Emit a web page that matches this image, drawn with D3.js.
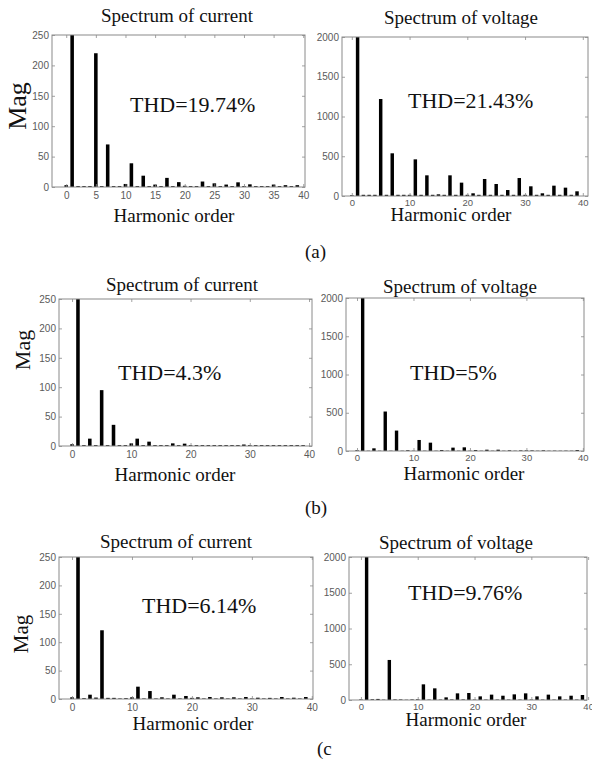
<!DOCTYPE html>
<html>
<head>
<meta charset="utf-8">
<script src="https://cdn.jsdelivr.net/npm/d3@7"></script>
<style>
  html, body { margin: 0; padding: 0; background: #fff; }
  svg { display: block; }
</style>
</head>
<body>
<svg id="chart" width="592" height="767"></svg>
<script>
// ---------------- DATA ----------------
const harmonicOrders = [0,1,2,3,4,5,6,7,8,9,10,11,12,13,14,15,16,17,18,19,
                        20,21,22,23,24,25,26,27,28,29,30,31,32,33,34,35,36,37,38,39];

const currentA = [3,250,1.5,1.5,1.5,220,1.5,70,1.5,1.5,5,39,1.5,18.6,1.5,4,1.5,15,1.5,8,
                  2,1.5,1.5,9,1.5,6,1.5,4,1.5,7.7,1.5,4.4,1.5,1.5,1.5,4,1.5,3,1.5,3];
const voltageA = [10,2000,15,15,15,1220,15,537,15,15,15,461,15,260,15,21,15,260,15,168,
                  15,34,15,214,15,151,15,75,15,226,15,122,15,34,15,130,15,105,15,59];

const currentB = [3,250,1.5,12.5,1.5,95,1.5,36,1.5,1.5,4.5,12.5,1.5,7.4,1.5,1.5,1.5,4.5,1.5,4,
                  1.5,1.5,1.5,1.5,1.5,1.5,1.5,1.5,1.5,2.5,1.5,1.5,1.5,1.5,1.5,1.5,1.5,1.5,1.5,1.5];
const voltageB = [10,2000,4,35,4,516,4,267,4,10,4,144,4,109,4,13,4,44,4,48,
                  4,13,4,17,4,17,4,9,4,8,8,8,4,9,4,5,4,5,4,13];

const currentC = [3,250,1.5,7.6,2.5,121,2,2,1,1.5,3,21.7,1,14,1,3,1,7.6,1,5.3,
                  2,3,1,3.5,1,3,1,3,1,3.5,1,2.3,1,2,1,3.5,1,2.3,1,3.5];
const voltageC = [8,2000,10,15,5,560,8,8,4,8,10,219,6,163,6,37,8,93,8,98,
                  6,51,6,75,6,60,6,79,6,93,6,51,6,75,6,51,6,60,6,70];

const thdLabels = ["THD=19.74%","THD=21.43%","THD=4.3%","THD=5%","THD=6.14%","THD=9.76%"];
const panelTitles = ["Spectrum of current","Spectrum of voltage"];
const xAxisTitle = "Harmonic order";
const yAxisTitle = "Mag";
const groupLabels = ["(a)","(b)","(c"];

const xTicksFive = [0,5,10,15,20,25,30,35,40];
const xTicksTen = [0,10,20,30,40];
const currentYTicks = [0,50,100,150,200,250];
const voltageYTicks = [0,500,1000,1500,2000];
const currentYMax = 250;
const voltageYMax = 2000;

// ---------------- LAYOUT ----------------
const panels = [
  {vals: currentA, ymax: currentYMax, yt: currentYTicks, xt: xTicksFive, thd: 0, title: 0,
   L:52, T:35, R:305, B:187, xd:[-2.4,40.3], pad:5,
   tx:177, ty:22, hx:174, hy:222, thx:130, thy:112, thFs:22},
  {vals: voltageA, ymax: voltageYMax, yt: voltageYTicks, xt: xTicksTen, thd: 1, title: 1,
   L:342, T:37, R:588, B:196, xd:[-1.7,40.9], pad:3,
   tx:461, ty:24, hx:451, hy:221, thx:408, thy:108, thFs:22},
  {vals: currentB, ymax: currentYMax, yt: currentYTicks, xt: xTicksTen, thd: 2, title: 0,
   L:59, T:299, R:312, B:446, xd:[-2.2,40.5], pad:5,
   tx:182, ty:291, hx:175, hy:481, thx:118, thy:380, thFs:22},
  {vals: voltageB, ymax: voltageYMax, yt: voltageYTicks, xt: xTicksTen, thd: 3, title: 1,
   L:346, T:298, R:584, B:451, xd:[-1.95,40.2], pad:3,
   tx:460, ty:293, hx:464, hy:480, thx:410, thy:380, thFs:22},
  {vals: currentC, ymax: currentYMax, yt: currentYTicks, xt: xTicksTen, thd: 4, title: 0,
   L:59, T:557, R:313, B:699, xd:[-2.17,40.2], pad:5,
   tx:176, ty:548, hx:193, hy:730, thx:142, thy:613, thFs:22},
  {vals: voltageC, ymax: voltageYMax, yt: voltageYTicks, xt: xTicksTen, thd: 5, title: 1,
   L:349, T:557, R:587, B:700, xd:[-2.1,39.8], pad:3,
   tx:456, ty:549, hx:466, hy:726, thx:408, thy:600, thFs:22}
];

const magPos = [{x:17, y:106, fs:26}, {x:22, y:350, fs:22}, {x:21, y:634, fs:21}];
const groupPos = [{x:305, y:258}, {x:305, y:514}, {x:317, y:755}];

const serif = "'Liberation Serif','Times New Roman',Times,serif";
const sans = "'Liberation Sans',Arial,Helvetica,sans-serif";
const axisGray = "#8a8a8a";
const labelGray = "#5a5a5a";
const barWidthUnits = 0.6;

const svg = d3.select("#chart");

panels.forEach((p, i) => {
  const x = d3.scaleLinear().domain(p.xd).range([p.L, p.R]);
  const y = d3.scaleLinear().domain([0, p.ymax]).range([p.B, p.T]);
  const g = svg.append("g");

  // bars
  const data = harmonicOrders.map((h, k) => ({h, v: p.vals[k]}));
  g.append("g").selectAll("rect").data(data).join("rect")
    .attr("x", d => x(d.h - barWidthUnits / 2))
    .attr("width", d => x(d.h + barWidthUnits / 2) - x(d.h - barWidthUnits / 2))
    .attr("y", d => y(Math.min(d.v, p.ymax)))
    .attr("height", d => y(0) - y(Math.min(d.v, p.ymax)))
    .attr("fill", "#000");

  // axes (inward ticks, MATLAB style)
  const styleAxis = (sel, fs) => {
    sel.select(".domain").remove();
    sel.selectAll(".tick line").attr("stroke", axisGray).attr("stroke-width", 0.8);
    sel.selectAll(".tick text").attr("fill", labelGray)
      .style("font-family", sans).style("font-size", (fs || 10) + "px");
  };
  const fmt = d3.format("d");
  g.append("g").attr("transform", `translate(${p.L},0)`)
    .call(d3.axisLeft(y).tickValues(p.yt).tickSize(-3).tickPadding(3).tickFormat(fmt))
    .call(styleAxis);
  g.append("g").attr("transform", `translate(${p.R},0)`)
    .call(d3.axisRight(y).tickValues(p.yt).tickSize(-3).tickFormat(""))
    .call(styleAxis);
  g.append("g").attr("transform", `translate(0,${p.B})`)
    .call(d3.axisBottom(x).tickValues(p.xt).tickSize(-3).tickPadding(p.pad).tickFormat(fmt))
    .call(styleAxis, p.pad === 3 ? 9.5 : 10);
  g.append("g").attr("transform", `translate(0,${p.T})`)
    .call(d3.axisTop(x).tickValues(p.xt).tickSize(-3).tickFormat(""))
    .call(styleAxis);

  // box
  g.append("rect")
    .attr("x", p.L).attr("y", p.T)
    .attr("width", p.R - p.L).attr("height", p.B - p.T)
    .attr("fill", "none").attr("stroke", axisGray).attr("stroke-width", 1);

  // titles
  g.append("text").attr("x", p.tx).attr("y", p.ty)
    .attr("text-anchor", "middle")
    .style("font-family", serif).style("font-size", "19px").attr("fill", "#111")
    .text(panelTitles[p.title]);
  g.append("text").attr("x", p.hx).attr("y", p.hy)
    .attr("text-anchor", "middle")
    .style("font-family", serif).style("font-size", "19px").attr("fill", "#111")
    .text(xAxisTitle);
  g.append("text").attr("x", p.thx).attr("y", p.thy)
    .style("font-family", serif).style("font-size", p.thFs + "px").attr("fill", "#111")
    .text(thdLabels[p.thd]);
});

magPos.forEach(m => {
  svg.append("text")
    .attr("transform", `translate(${m.x},${m.y}) rotate(-90)`)
    .attr("text-anchor", "middle").attr("dominant-baseline", "central")
    .style("font-family", serif).style("font-size", m.fs + "px").attr("fill", "#111")
    .text(yAxisTitle);
});

groupPos.forEach((gp, i) => {
  svg.append("text").attr("x", gp.x).attr("y", gp.y)
    .style("font-family", serif).style("font-size", "19px").attr("fill", "#111")
    .text(groupLabels[i]);
});
</script>
</body>
</html>
